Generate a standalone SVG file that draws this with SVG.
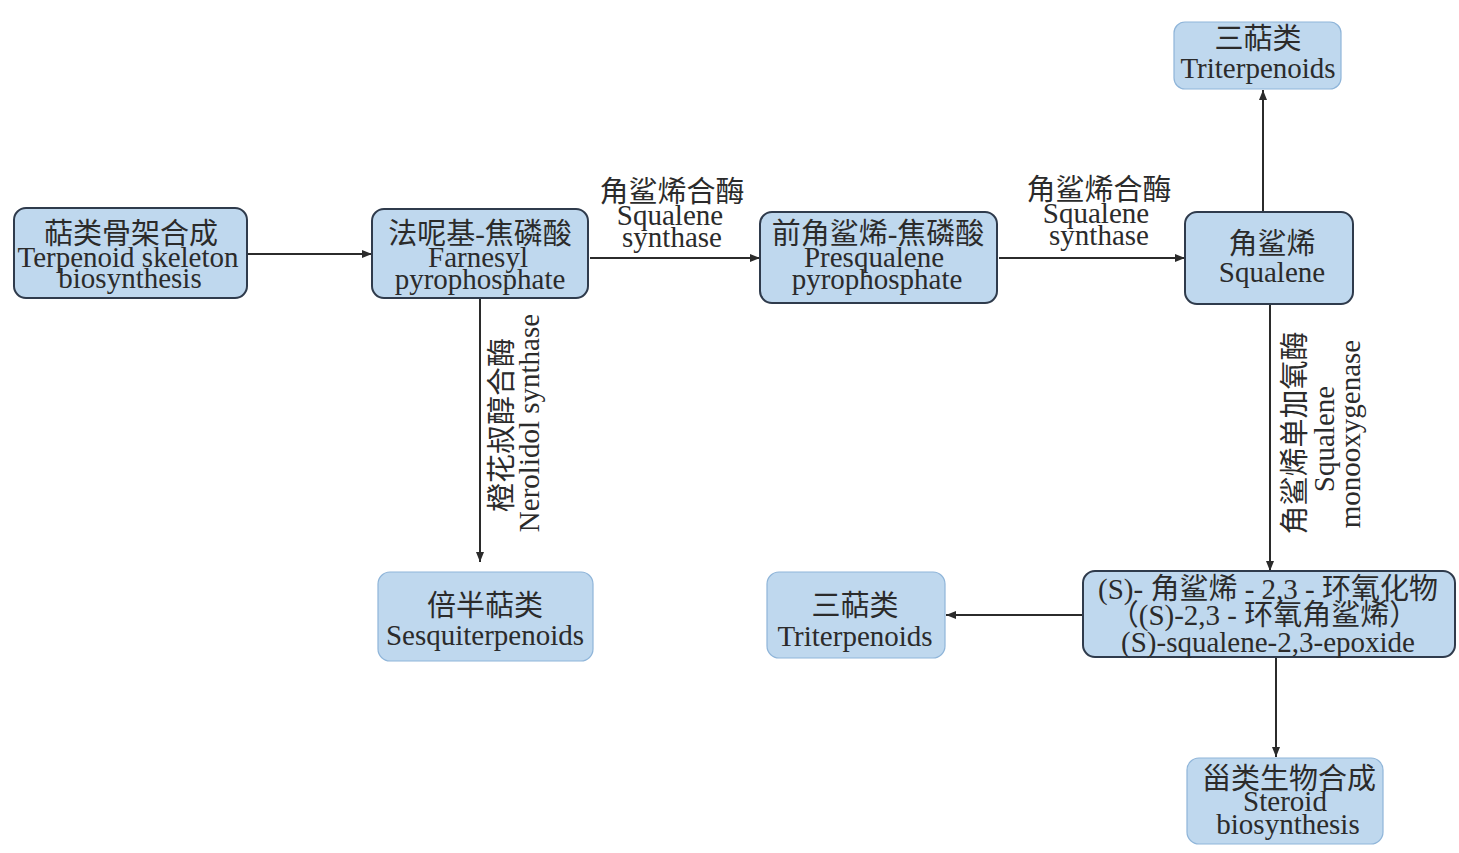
<svg xmlns="http://www.w3.org/2000/svg" width="1459" height="853" viewBox="0 0 1459 853">
<defs>
<marker id="ah" markerUnits="userSpaceOnUse" markerWidth="12" markerHeight="10" refX="10" refY="4" orient="auto">
<path d="M0,0 L10,4 L0,8 z" fill="#2b2b2b"/>
</marker>
<style>
.dk{fill:#bfd8ee;stroke:#2f3b4c;stroke-width:2}
.lt{fill:#bfd8ee;stroke:#8fb5d9;stroke-width:1.2}
text{font-family:"Liberation Serif","Noto Sans CJK SC",serif;font-size:29px;fill:#2b2b2b;text-anchor:middle}
.c{stroke:#2b2b2b;stroke-width:2;fill:none;marker-end:url(#ah)}
</style>
</defs>
<rect width="1459" height="853" fill="#ffffff"/>
<g id="connectors">
<line class="c" x1="247" y1="254" x2="372" y2="254"/>
<line class="c" x1="590" y1="258" x2="760" y2="258"/>
<line class="c" x1="999" y1="258" x2="1185" y2="258"/>
<line class="c" x1="1263" y1="212" x2="1263" y2="90"/>
<line class="c" x1="480" y1="299" x2="480" y2="562"/>
<line class="c" x1="1270" y1="305" x2="1270" y2="571"/>
<line class="c" x1="1083" y1="615" x2="946" y2="615"/>
<line class="c" x1="1276" y1="658" x2="1276" y2="757"/>
</g>
<g id="edge-labels">
<text x="672" y="202">角鲨烯合酶</text>
<text x="670" y="225">Squalene</text>
<text x="672" y="247">synthase</text>
<text x="1099" y="200">角鲨烯合酶</text>
<text x="1096" y="223">Squalene</text>
<text x="1099" y="245">synthase</text>
<text transform="translate(512,425) rotate(-90)">橙花叔醇合酶</text>
<text transform="translate(539,423) rotate(-90)">Nerolidol synthase</text>
<text transform="translate(1305,433) rotate(-90)">角鲨烯单加氧酶</text>
<text transform="translate(1334,439) rotate(-90)">Squalene</text>
<text transform="translate(1360,434) rotate(-90)">monooxygenase</text>
</g>
<g id="n-terpenoid">
<rect class="dk" x="14" y="208" width="233" height="90" rx="12"/>
<text x="131" y="244">萜类骨架合成</text>
<text x="128" y="267">Terpenoid skeleton</text>
<text x="130" y="288">biosynthesis</text>
</g>
<g id="n-farnesyl">
<rect class="dk" x="372" y="209" width="216" height="89" rx="12"/>
<text x="480" y="244">法呢基-焦磷酸</text>
<text x="478" y="267">Farnesyl</text>
<text x="480" y="289">pyrophosphate</text>
</g>
<g id="n-presqualene">
<rect class="dk" x="760" y="212" width="237" height="91" rx="12"/>
<text x="878" y="244">前角鲨烯-焦磷酸</text>
<text x="874" y="267">Presqualene</text>
<text x="877" y="289">pyrophosphate</text>
</g>
<g id="n-squalene">
<rect class="dk" x="1185" y="212" width="168" height="92" rx="12"/>
<text x="1272" y="254">角鲨烯</text>
<text x="1272" y="282">Squalene</text>
</g>
<g id="n-triterpenoids-top">
<rect class="lt" x="1174" y="22" width="167" height="67" rx="11"/>
<text x="1258" y="49">三萜类</text>
<text x="1258" y="78">Triterpenoids</text>
</g>
<g id="n-sesquiterpenoids">
<rect class="lt" x="378" y="572" width="215" height="89" rx="12"/>
<text x="485" y="616">倍半萜类</text>
<text x="485" y="645">Sesquiterpenoids</text>
</g>
<g id="n-triterpenoids-mid">
<rect class="lt" x="767" y="572" width="178" height="86" rx="12"/>
<text x="855" y="616">三萜类</text>
<text x="855" y="646">Triterpenoids</text>
</g>
<g id="n-epoxide">
<rect class="dk" x="1083" y="571" width="372" height="86" rx="12"/>
<text x="1268" y="599">(S)- 角鲨烯 - 2,3 - 环氧化物</text>
<text x="1264" y="625">（(S)-2,3 - 环氧角鲨烯）</text>
<text x="1268" y="652">(S)-squalene-2,3-epoxide</text>
</g>
<g id="n-steroid">
<rect class="lt" x="1187" y="758" width="196" height="86" rx="12"/>
<text x="1289" y="789">甾类生物合成</text>
<text x="1285" y="811">Steroid</text>
<text x="1288" y="834">biosynthesis</text>
</g>
</svg>
